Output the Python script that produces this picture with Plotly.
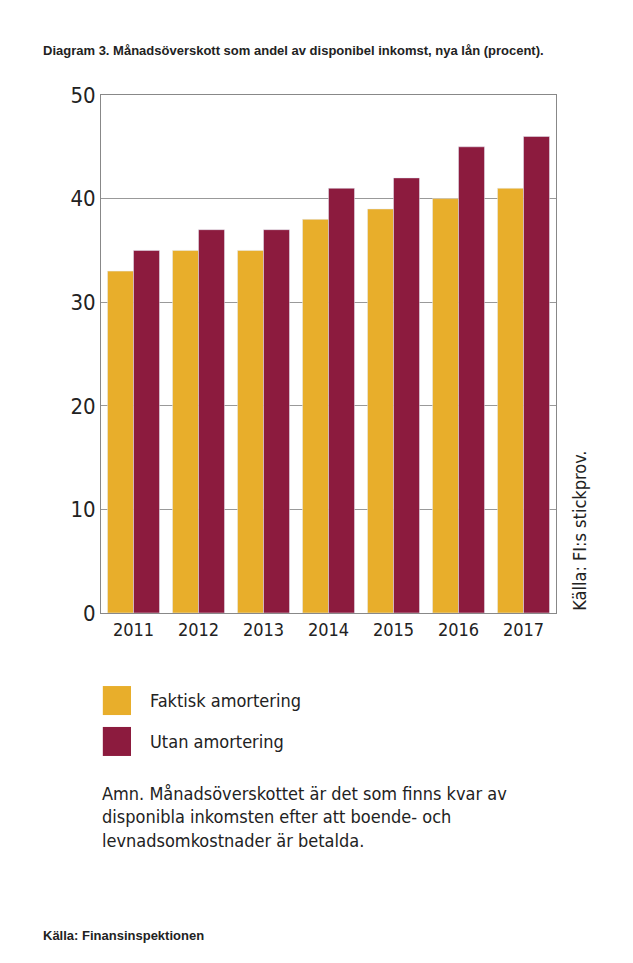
import plotly.graph_objects as go

years = ["2011", "2012", "2013", "2014", "2015", "2016", "2017"]
faktisk = [33, 35, 35, 38, 39, 40, 41]
utan = [35, 37, 37, 41, 42, 45, 46]

yellow = "#E8AE2B"
maroon = "#8C1B3E"
font = "DejaVu Sans Condensed, Liberation Sans Narrow, Arial"

fig = go.Figure()
fig.add_bar(x=years, y=faktisk, name="Faktisk amortering", marker_color=yellow)
fig.add_bar(x=years, y=utan, name="Utan amortering", marker_color=maroon)

fig.update_layout(
    width=633, height=963,
    margin=dict(l=93, r=85, t=87, b=358),
    plot_bgcolor="white", paper_bgcolor="white",
    barmode="group", bargap=0.2, bargroupgap=0,
    showlegend=False,
    font=dict(family=font, size=18, color="#222"),
)
fig.update_xaxes(showline=True, linecolor="#888", mirror=True, ticks="", tickfont=dict(size=18))
fig.update_yaxes(range=[0, 50], dtick=10, showgrid=True, gridcolor="#999", gridwidth=1,
                 showline=True, linecolor="#888", mirror=True, tickfont=dict(size=22), ticks="")

# legend squares
for y0, col, label in [(-0.197, yellow, "Faktisk amortering"), (-0.276, maroon, "Utan amortering")]:
    fig.add_shape(type="rect", xref="paper", yref="paper", x0=0.004, x1=0.066, y0=y0, y1=y0 + 0.056,
                  fillcolor=col, line_width=0)
    fig.add_annotation(xref="paper", yref="paper", x=0.103, y=y0 + 0.028, text=label, showarrow=False,
                       xanchor="left", yanchor="middle", font=dict(size=18))

fig.add_annotation(xref="paper", yref="paper", x=-0.132, y=1.085, xanchor="left", yanchor="middle",
                   showarrow=False, text="<b>Diagram 3. Månadsöverskott som andel av disponibel inkomst, nya lån (procent).</b>",
                   font=dict(size=13, family="Liberation Sans Narrow, Arial"))
fig.add_annotation(xref="paper", yref="paper", x=1.05, y=0.0, xanchor="center", yanchor="bottom",
                   textangle=-90, showarrow=False, text="Källa: FI:s stickprov.", font=dict(size=18))
fig.add_annotation(xref="paper", yref="paper", x=-0.002, y=-0.325, xanchor="left", yanchor="top",
                   showarrow=False, align="left",
                   text="Amn. Månadsöverskottet är det som finns kvar av<br>disponibla inkomsten efter att boende- och<br>levnadsomkostnader är betalda.",
                   font=dict(size=18))
fig.add_annotation(xref="paper", yref="paper", x=-0.132, y=-0.622, xanchor="left", yanchor="middle",
                   showarrow=False, text="<b>Källa: Finansinspektionen</b>",
                   font=dict(size=13, family="Liberation Sans Narrow, Arial"))

fig.write_html("out.html")
